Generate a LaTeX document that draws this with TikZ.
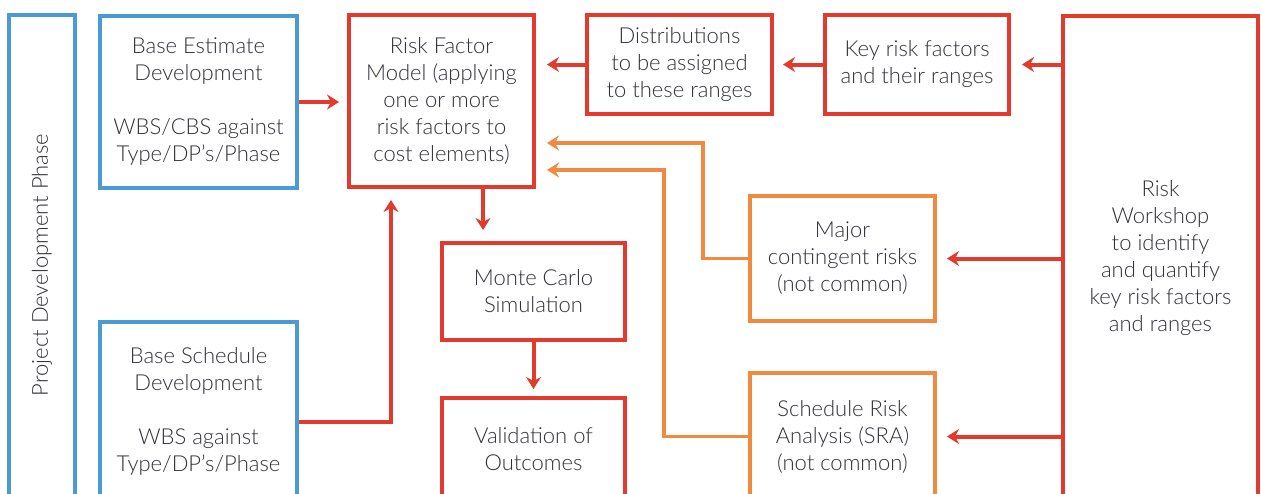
\documentclass[tikz,border=0pt]{standalone}
\usepackage{fontspec}
\setmainfont{Lato Light}
\usetikzlibrary{arrows.meta}
\definecolor{cblue}{HTML}{4A9AD4}
\definecolor{cred}{HTML}{E23A2C}
\definecolor{corange}{HTML}{EF8A40}
\definecolor{ctext}{HTML}{30303A}
\begin{document}
\begin{tikzpicture}[x=1pt,y=-1pt,
  box/.style={draw, line width=4pt, rectangle, inner sep=0pt, align=center, text=ctext, font=\fontsize{22}{27}\selectfont},
  bluebox/.style={box, draw=cblue},
  redbox/.style={box, draw=cred},
  orangebox/.style={box, draw=corange},
  redarrow/.style={draw=cred, line width=4pt, line join=miter, -{Stealth[length=12pt,width=15pt,inset=4pt]}},
  orangearrow/.style={draw=corange, line width=3.5pt, line join=miter, -{Stealth[length=12pt,width=15pt,inset=4pt]}}
]
\useasboundingbox (0,0) rectangle (1261,493);
\clip (0,0) rectangle (1261,493);
\fill[white] (0,0) rectangle (1261,493);

\node[bluebox, minimum width=66pt, minimum height=500pt] (phase) at (42,265) {\rotatebox{90}{Project Development Phase}};
\node[bluebox, minimum width=197pt, minimum height=172pt] (bed) at (198.5,102) {Base Estimate\\Development\\[27pt]WBS/CBS against\\Type/DP’s/Phase};
\node[bluebox, minimum width=197pt, minimum height=178pt] (bsd) at (198.5,411) {Base Schedule\\Development\\[27pt]WBS against\\Type/DP’s/Phase};
\node[redbox, minimum width=185pt, minimum height=172pt] (rfm) at (441.5,101) {Risk Factor\\Model (applying\\one or more\\risk factors to\\cost elements)};
\node[redbox, minimum width=185pt, minimum height=99pt] (dist) at (679.5,64.5) {Distributions\\to be assigned\\to these ranges};
\node[redbox, minimum width=184pt, minimum height=99pt] (key) at (917,64.5) {Key risk factors\\and their ranges};
\node[redbox, minimum width=195pt, minimum height=484pt] (ws) at (1160.5,258) {Risk\\Workshop\\to identify\\and quantify\\key risk factors\\and ranges};
\node[redbox, minimum width=183pt, minimum height=97pt] (mc) at (533.5,291.5) {Monte Carlo\\Simulation};
\node[redbox, minimum width=183pt, minimum height=102pt] (val) at (533.5,449) {Validation of\\Outcomes};
\node[orangebox, minimum width=185pt, minimum height=125pt] (major) at (842.5,258.5) {Major\\contingent risks\\(not common)};
\node[orangebox, minimum width=185pt, minimum height=127pt] (sra) at (842.5,436.5) {Schedule Risk\\Analysis (SRA)\\(not common)};

\coordinate (c1) at (391,422);
\coordinate (c2) at (483,0);
\coordinate (o1) at (703,143);
\coordinate (o2) at (664,170);

\draw[redarrow, shorten >=8pt] (bed.east) -- (bed.east -| rfm.west);
\draw[redarrow, shorten >=11pt] (dist.west) -- (dist.west -| rfm.east);
\draw[redarrow, shorten >=9pt] (key.west) -- (key.west -| dist.east);
\draw[redarrow, shorten >=11pt] (ws.west |- key.east) -- (key.east);
\draw[redarrow, shorten >=10pt] (ws.west |- major.east) -- (major.east);
\draw[redarrow, shorten >=10pt] (ws.west |- sra.east) -- (sra.east);
\draw[redarrow, shorten >=11pt] (rfm.south -| c2) -- (mc.north -| c2);
\draw[redarrow, shorten >=7pt] (mc.south) -- (val.north);
\draw[redarrow, shorten >=11pt] (bsd.east |- c1) -- (c1) -- (rfm.south -| c1);
\draw[orangearrow, shorten >=11pt] (major.west) -| (o1) -- (rfm.east |- o1);
\draw[orangearrow, shorten >=11pt] (sra.west) -| (o2) -- (rfm.east |- o2);
\end{tikzpicture}
\end{document}
